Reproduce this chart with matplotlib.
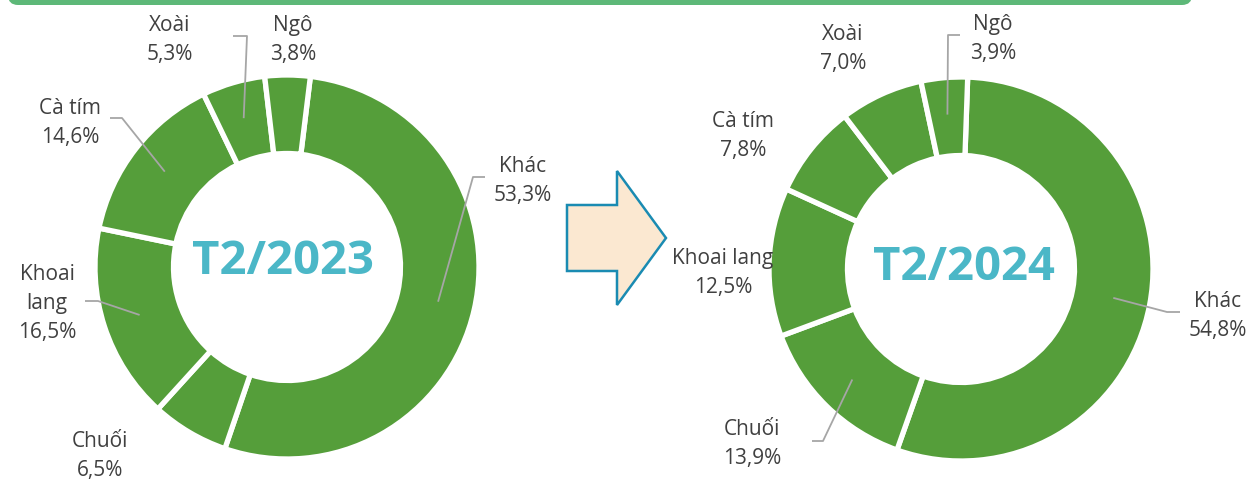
import numpy as np
import matplotlib.pyplot as plt
from matplotlib.patches import Polygon, FancyBboxPatch

plt.rcParams['font.family'] = ['Open Sans', 'DejaVu Sans']

# data (order = clockwise from the top)
crops = ["Khác", "Chuối", "Khoai lang", "Cà tím", "Xoài", "Ngô"]
share_2023 = [53.3, 6.5, 16.5, 14.6, 5.3, 3.8]
share_2024 = [54.8, 13.9, 12.5, 7.8, 7.0, 3.9]
titles = ["T2/2023", "T2/2024"]

W, H = 1249, 479
GREEN = '#559E3A'
TXT = '#404040'
LEAD = '#A6A6A6'
TEAL = '#4BB7C7'

fig = plt.figure(figsize=(W / 100, H / 100), dpi=100)
ax = fig.add_axes([0, 0, 1, 1])


def Y(y):
    # image rows -> data y
    return H - y


# layout per chart: centre, start offset (deg clockwise from top),
# label baseline of first line, leader elbow points
charts = [
    dict(vals=share_2023, title=titles[0], cx=287, cy=267, start=7, tpos=(283, 262),
         labels={"Khác": (523, 172), "Chuối": (100, 447), "Khoai lang": (47, 280),
                 "Cà tím": (70, 114), "Xoài": (170, 31), "Ngô": (293, 31)},
         names={"Khoai lang": "Khoai\nlang"},
         leaders={"Xoài": [(233, 36), (247, 36)], "Cà tím": [(110, 118), (122, 118)],
                  "Khoai lang": [(85, 301), (98, 301)], "Khác": [(485, 177), (473, 177)]}),
    dict(vals=share_2024, title=titles[1], cx=961, cy=269, start=2, tpos=(964, 268),
         labels={"Khác": (1218, 307), "Chuối": (752, 435), "Khoai lang": (723, 264),
                 "Cà tím": (743, 127), "Xoài": (843, 40), "Ngô": (993, 30)},
         names={},
         leaders={"Ngô": [(960, 35), (948, 35)], "Khác": [(1180, 312), (1167, 312)],
                  "Chuối": [(812, 441), (823, 441)]}),
]

R = 192
R_IN = 113.5
R_LEAD = 155

for c in charts:
    wedges, _ = ax.pie(c['vals'], colors=[GREEN] * len(c['vals']), radius=R,
                       center=(c['cx'], Y(c['cy'])), startangle=90 - c['start'],
                       counterclock=False, frame=True,
                       wedgeprops=dict(width=R - R_IN, edgecolor='white', linewidth=3.8))
    for name, w, v in zip(crops, wedges, c['vals']):
        x0, y0 = c['labels'][name]
        lines = c['names'].get(name, name).split('\n') + [f"{v:.1f}".replace('.', ',') + '%']
        for i, ln in enumerate(lines):
            ax.text(x0, Y(y0 + i * 29), ln, ha='center', va='baseline',
                    fontsize=15, color=TXT)
        if name in c['leaders']:
            mid = np.deg2rad((w.theta1 + w.theta2) / 2)
            ex = c['cx'] + R_LEAD * np.cos(mid)
            ey = Y(c['cy']) + R_LEAD * np.sin(mid)
            pts = c['leaders'][name]
            xs = [p[0] for p in pts] + [ex]
            ys = [Y(p[1]) for p in pts] + [ey]
            ax.plot(xs, ys, color=LEAD, lw=1.3, solid_capstyle='butt')
    ax.text(c['tpos'][0], Y(c['tpos'][1]), c['title'], ha='center', va='center',
            fontsize=34, fontweight='bold', color=TEAL)

# arrow between the two charts
arrow = [(567, 205), (617, 205), (617, 171), (666, 238), (617, 305), (617, 271), (567, 271)]
ax.add_patch(Polygon([(x, Y(y)) for x, y in arrow], closed=True,
                     facecolor='#FBE8D1', edgecolor='#1A8BB2', lw=1.8, joinstyle='miter'))

# green banner cut off at the top
ax.add_patch(FancyBboxPatch((8, Y(5)), 1184, 40, boxstyle='round,pad=0,rounding_size=10',
                            facecolor='#5DB878', edgecolor='none'))

ax.set_xlim(0, W)
ax.set_ylim(0, H)
ax.set_aspect('equal')
ax.axis('off')

fig.savefig('out.png', dpi=100)
